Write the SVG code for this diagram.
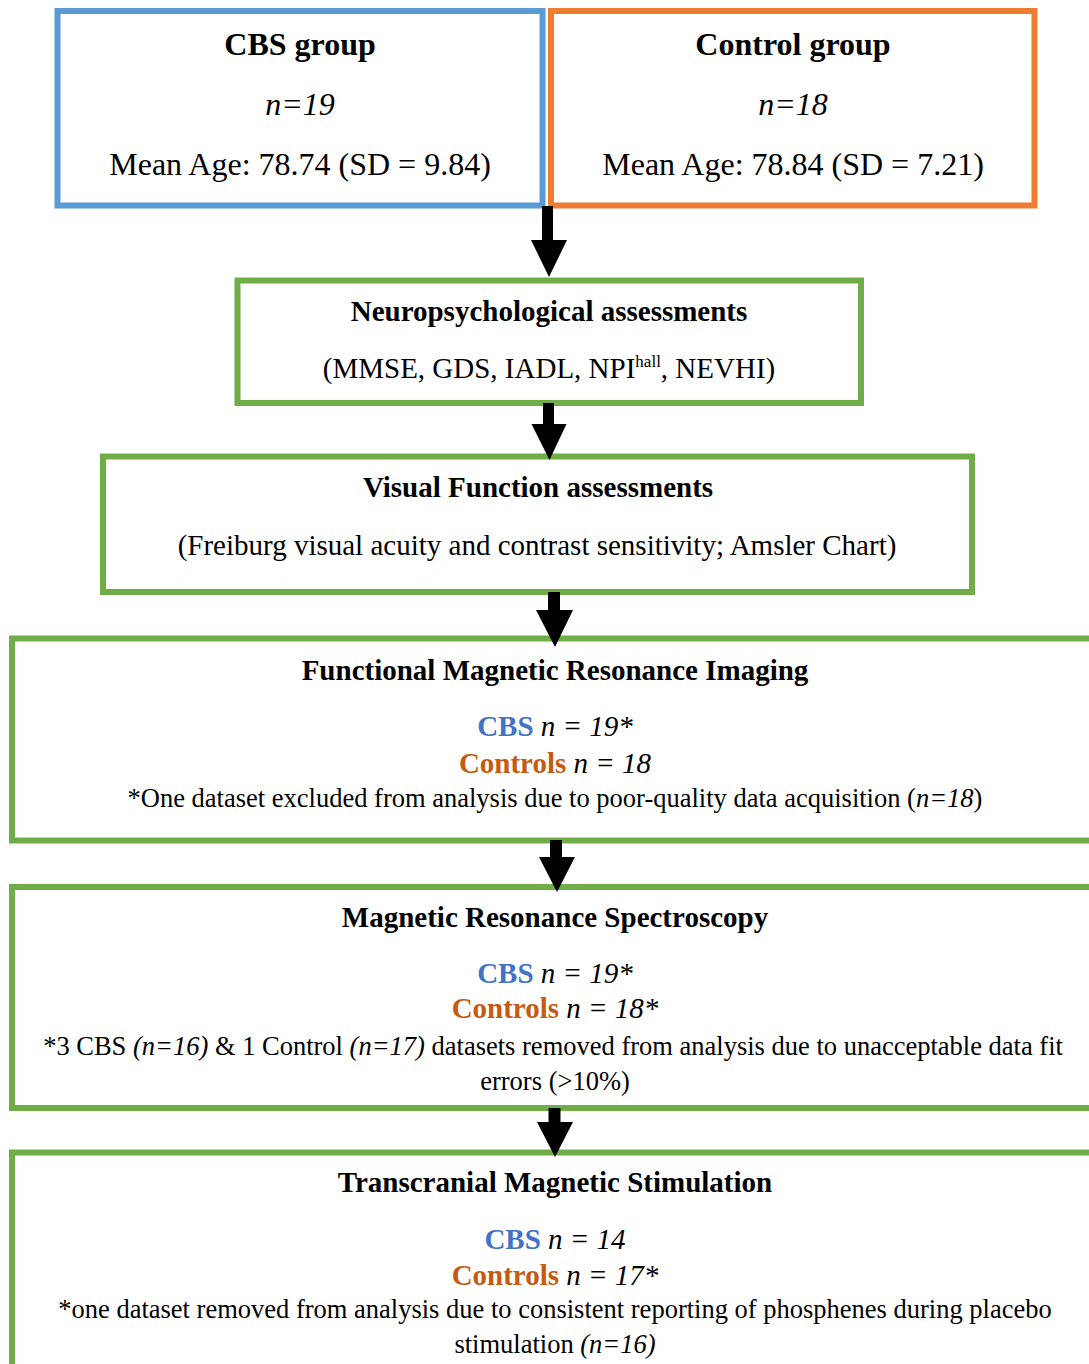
<svg xmlns="http://www.w3.org/2000/svg" width="1089" height="1364" viewBox="0 0 1089 1364">
<style>
  text { font-family: "Liberation Serif", "Times New Roman", serif; fill: #000; text-anchor: middle; }
  .big { font-size: 32px; }
  .t { font-size: 29px; font-weight: bold; }
  .r { font-size: 29px; }
  .fn { font-size: 26.5px; }
  .b { font-weight: bold; }
  .i { font-style: italic; }
  .cbs { fill: #4472C4; font-weight: bold; }
  .ctl { fill: #C55A11; font-weight: bold; }
  .box { fill: #fff; stroke-width: 6; }
  .green { stroke: #70AD47; }
  .arrow { fill: #000; }
</style>
<rect width="1089" height="1364" fill="#fff"/>

<g id="cbs-group">
  <rect class="box" x="57.5" y="11" width="485" height="194.5" stroke="#5B9BD5" stroke-width="5.5"/>
  <text class="big b" x="300" y="55">CBS group</text>
  <text class="big i" x="300" y="115">n=19</text>
  <text class="big" x="300" y="175">Mean Age: 78.74 (SD = 9.84)</text>
</g>

<g id="control-group">
  <rect class="box" x="551" y="11" width="483.5" height="194.5" stroke="#ED7D31" stroke-width="5.5"/>
  <text class="big b" x="793" y="55">Control group</text>
  <text class="big i" x="793" y="115">n=18</text>
  <text class="big" x="793" y="175">Mean Age: 78.84 (SD = 7.21)</text>
</g>

<g id="neuropsych">
  <rect class="box green" x="237.5" y="280.5" width="623.5" height="122.5"/>
  <text class="t" x="549" y="321">Neuropsychological assessments</text>
  <text class="r" x="549" y="378">(MMSE, GDS, IADL, NPI<tspan font-size="17" dy="-11">hall</tspan><tspan dy="11">, NEVHI)</tspan></text>
</g>

<g id="visual">
  <rect class="box green" x="103" y="456.5" width="869" height="135.5"/>
  <text class="t" x="538" y="497">Visual Function assessments</text>
  <text class="r" x="537" y="555">(Freiburg visual acuity and contrast sensitivity; Amsler Chart)</text>
</g>

<g id="fmri">
  <rect class="box green" x="12" y="638.5" width="1100" height="202"/>
  <text class="t" x="555" y="680">Functional Magnetic Resonance Imaging</text>
  <text class="r" x="555" y="736"><tspan class="cbs">CBS</tspan><tspan class="i"> n = 19*</tspan></text>
  <text class="r" x="555" y="773"><tspan class="ctl">Controls</tspan><tspan class="i"> n = 18</tspan></text>
  <text class="fn" x="555" y="807">*One dataset excluded from analysis due to poor-quality data acquisition (<tspan class="i">n=18</tspan>)</text>
</g>

<g id="mrs">
  <rect class="box green" x="12" y="887" width="1100" height="221"/>
  <text class="t" x="555" y="927">Magnetic Resonance Spectroscopy</text>
  <text class="r" x="555" y="983"><tspan class="cbs">CBS</tspan><tspan class="i"> n = 19*</tspan></text>
  <text class="r" x="555" y="1018"><tspan class="ctl">Controls</tspan><tspan class="i"> n = 18*</tspan></text>
  <text class="fn" x="553" y="1055">*3 CBS <tspan class="i">(n=16)</tspan> &amp; 1 Control <tspan class="i">(n=17)</tspan> datasets removed from analysis due to unacceptable data fit</text>
  <text class="fn" x="555" y="1090">errors (&gt;10%)</text>
</g>

<g id="tms">
  <rect class="box green" x="12" y="1152.5" width="1100" height="260"/>
  <text class="t" x="555" y="1192">Transcranial Magnetic Stimulation</text>
  <text class="r" x="555" y="1249"><tspan class="cbs">CBS</tspan><tspan class="i"> n = 14</tspan></text>
  <text class="r" x="555" y="1285"><tspan class="ctl">Controls</tspan><tspan class="i"> n = 17*</tspan></text>
  <text class="fn" x="555" y="1318">*one dataset removed from analysis due to consistent reporting of phosphenes during placebo</text>
  <text class="fn" x="555" y="1353">stimulation <tspan class="i">(n=16)</tspan></text>
</g>

<g id="connectors">
  <polygon class="arrow" points="542,206 553,206 553,240 567,240 549,277 531,240 542,240"/>
  <polygon class="arrow" points="543,403 554,403 554,424 566.5,424 549.5,460 531.5,424 543,424"/>
  <polygon class="arrow" points="548,592 560,592 560,610 573,610 555,647 536,610 548,610"/>
  <polygon class="arrow" points="550,840 562,840 562,857 575,857 557,892 539,857 550,857"/>
  <polygon class="arrow" points="548.5,1108 560.5,1108 560.5,1122 573,1122 555,1157 537,1122 548.5,1122"/>
</g>
</svg>
